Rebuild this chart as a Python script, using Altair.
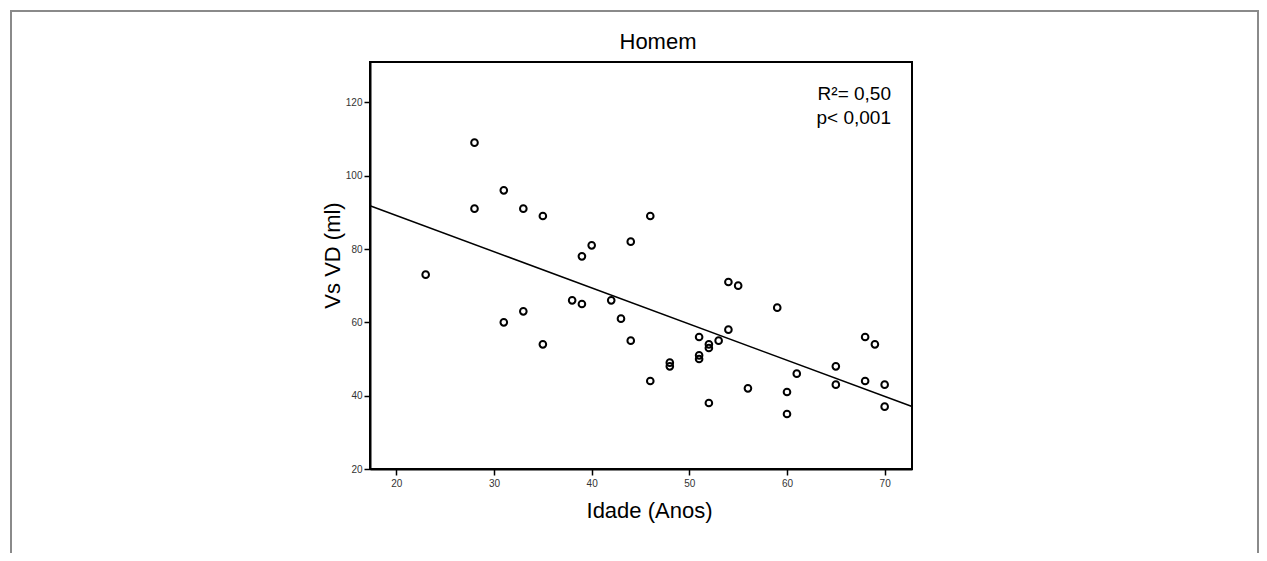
import altair as alt
import pandas as pd

# data
idade = [28, 28, 31, 33, 35, 39, 40, 44, 46, 23, 31, 33, 35, 38, 39, 42, 43, 44,
         46, 48, 48, 51, 51, 51, 52, 52, 52, 53, 54, 55, 54, 56, 59, 60, 60, 61,
         65, 65, 68, 69, 68, 70, 70]
vs_vd = [109, 91, 96, 91, 89, 78, 81, 82, 89, 73, 60, 63, 54, 66, 65, 66, 61, 55,
         44, 49, 48, 56, 51, 50, 54, 53, 38, 55, 71, 70, 58, 42, 64, 41, 35, 46,
         48, 43, 56, 54, 44, 43, 37]
x_ticks = [20, 30, 40, 50, 60, 70]
y_ticks = [20, 40, 60, 80, 100, 120]
annot = ["R\u00b2= 0,50", "p< 0,001"]
title_text = "Homem"

df = pd.DataFrame({"idade": idade, "vs": vs_vd})

FONT = "Liberation Sans"
xdom = [17.3, 72.8]
ydom = [20, 131]

common_axis = dict(grid=False, domainColor="black", domainWidth=2,
                   tickColor="black", tickWidth=1.5, tickSize=6,
                   labelFont=FONT, labelFontSize=10, labelColor="#333",
                   titleFont=FONT, titleFontSize=22, titleFontWeight="normal",
                   titleColor="black", titleBaseline="alphabetic")

xenc = alt.X("idade:Q",
             scale=alt.Scale(domain=xdom, nice=False, zero=False),
             axis=alt.Axis(values=x_ticks, title="Idade (Anos)",
                           titleX=279, titleY=48, titleAlign="center",
                           labelPadding=3, **common_axis))
yenc = alt.Y("vs:Q",
             scale=alt.Scale(domain=ydom, nice=False, zero=False),
             axis=alt.Axis(values=y_ticks, title="Vs VD (ml)",
                           titleX=-31, titleY=193, titleAngle=-90,
                           titleAlign="center", labelPadding=2, **common_axis))

points = alt.Chart(df).mark_point(shape="circle", filled=False, color="black",
                                  size=44, strokeWidth=2, opacity=1).encode(
    x=xenc, y=yenc)

reg = alt.Chart(df).transform_regression(
    "idade", "vs", extent=xdom).mark_line(color="black", strokeWidth=1.5).encode(
    x=alt.X("idade:Q"), y=alt.Y("vs:Q"))

one = pd.DataFrame({"a": [0]})

text = alt.Chart(one).mark_text(
    text=annot, align="right", baseline="alphabetic", font=FONT, fontSize=19,
    lineHeight=24, color="black").encode(x=alt.value(521), y=alt.value(38))

title = alt.Chart(one).mark_text(
    text=title_text, align="center", baseline="alphabetic", font=FONT,
    fontSize=22, color="black").encode(x=alt.value(288), y=alt.value(-13))

frame = alt.Chart(one).mark_rect(
    filled=False, stroke="#8a8a8a", strokeWidth=2).encode(
    x=alt.value(-359), x2=alt.value(888), y=alt.value(-51), y2=alt.value(700))

chart = alt.layer(frame, reg, points, text, title).properties(
    width=542, height=407,
    background="white",
    autosize=alt.AutoSizeParams(type="none"),
    padding={"left": 362, "top": 54, "right": 347, "bottom": 84},
).configure_view(stroke="black", strokeWidth=2)

chart.save("out.html", embed_options={"renderer": "svg", "actions": False})
